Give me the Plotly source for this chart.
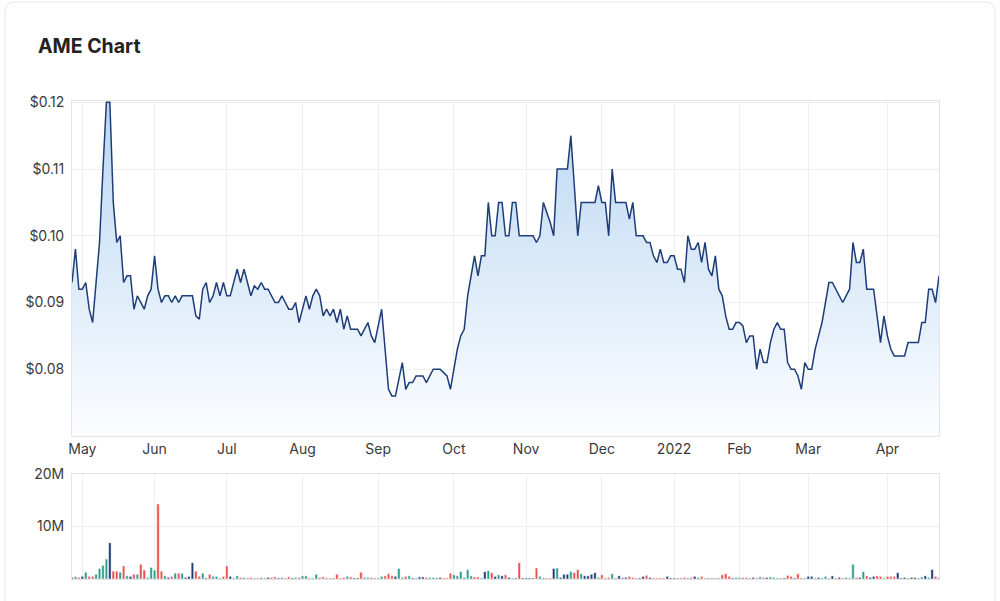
import pandas as pd
import plotly.graph_objects as go

# ---------------- data ----------------
holidays = ["2021-06-14", "2021-12-27", "2021-12-28", "2022-01-03",
            "2022-01-26", "2022-04-15", "2022-04-18", "2022-04-25"]
dates = [d for d in pd.bdate_range("2021-04-28", "2022-04-27")
         if d.strftime("%Y-%m-%d") not in holidays]

close = [
    0.093, 0.098, 0.092, 0.092, 0.093, 0.089, 0.087, 0.093, 0.099, 0.110,
    0.120, 0.120, 0.105, 0.099, 0.100, 0.093, 0.094, 0.094, 0.089, 0.091,
    0.090, 0.089, 0.091, 0.092, 0.097, 0.092, 0.090, 0.091, 0.091, 0.090,
    0.091, 0.090, 0.091, 0.091, 0.091, 0.091, 0.088, 0.0875, 0.092, 0.093,
    0.090, 0.091, 0.093, 0.091, 0.093, 0.091, 0.091, 0.093, 0.095, 0.093,
    0.095, 0.093, 0.091, 0.0925, 0.092, 0.093, 0.092, 0.092, 0.091, 0.090,
    0.090, 0.091, 0.090, 0.089, 0.089, 0.090, 0.087, 0.089, 0.091, 0.089,
    0.091, 0.092, 0.091, 0.088, 0.089, 0.088, 0.089, 0.087, 0.089, 0.086,
    0.088, 0.086, 0.086, 0.086, 0.085, 0.086, 0.087, 0.085, 0.084, 0.0865,
    0.089, 0.083, 0.077, 0.076, 0.076, 0.0785, 0.081, 0.077, 0.078, 0.078,
    0.079, 0.079, 0.079, 0.078, 0.079, 0.080, 0.080, 0.080, 0.0795, 0.079,
    0.077, 0.080, 0.083, 0.085, 0.086, 0.091, 0.094, 0.097, 0.094, 0.097,
    0.097, 0.105, 0.100, 0.100, 0.105, 0.105, 0.100, 0.100, 0.105, 0.105,
    0.100, 0.100, 0.100, 0.100, 0.100, 0.099, 0.100, 0.105, 0.1035, 0.102,
    0.100, 0.110, 0.110, 0.110, 0.110, 0.115, 0.108, 0.100, 0.105, 0.105,
    0.105, 0.105, 0.105, 0.1075, 0.105, 0.105, 0.100, 0.110, 0.105, 0.105,
    0.105, 0.105, 0.1025, 0.105, 0.100, 0.100, 0.100, 0.099, 0.099, 0.097,
    0.096, 0.098, 0.096, 0.096, 0.097, 0.097, 0.095, 0.095, 0.093, 0.100,
    0.098, 0.098, 0.099, 0.096, 0.099, 0.095, 0.094, 0.097, 0.092, 0.091,
    0.088, 0.086, 0.086, 0.087, 0.087, 0.0865, 0.084, 0.085, 0.085, 0.080,
    0.083, 0.081, 0.081, 0.084, 0.086, 0.087, 0.086, 0.086, 0.081, 0.080,
    0.080, 0.079, 0.077, 0.081, 0.080, 0.080, 0.083, 0.085, 0.087, 0.090,
    0.093, 0.093, 0.092, 0.091, 0.090, 0.091, 0.092, 0.099, 0.096, 0.096,
    0.098, 0.092, 0.092, 0.092, 0.088, 0.084, 0.088, 0.085, 0.083, 0.082,
    0.082, 0.082, 0.082, 0.084, 0.084, 0.084, 0.084, 0.087, 0.087, 0.092,
    0.092, 0.090, 0.094,
]

volume_m = [
    0.3, 0.45, 0.3, 0.5, 1.3, 0.5, 0.5, 0.9, 2.0, 2.6,
    3.8, 6.9, 1.5, 1.5, 1.3, 2.5, 0.6, 0.5, 0.9, 0.9,
    2.8, 1.7, 0.3, 2.2, 1.7, 14.3, 1.5, 0.6, 0.3, 0.5,
    1.1, 1.1, 1.1, 0.3, 0.5, 3.1, 1.5, 0.5, 1.1, 0.2,
    0.9, 0.5, 0.5, 0.2, 0.5, 2.5, 0.5, 0.2, 0.6, 0.3,
    0.3, 0.2, 0.3, 0.2, 0.2, 0.3, 0.2, 0.3, 0.3, 0.4,
    0.2, 0.3, 0.2, 0.4, 0.2, 0.3, 0.3, 0.6, 0.6, 0.2,
    0.2, 0.9, 0.3, 0.4, 0.2, 0.2, 0.2, 0.9, 0.2, 0.3,
    0.5, 0.4, 0.2, 0.2, 1.3, 0.3, 0.3, 0.3, 0.2, 0.2,
    0.5, 0.6, 1.0, 0.6, 0.5, 2.0, 0.3, 0.5, 0.6, 0.2,
    0.2, 0.4, 0.4, 0.3, 0.3, 0.3, 0.2, 0.3, 0.2, 0.2,
    1.1, 0.8, 0.6, 1.4, 0.3, 1.8, 0.6, 0.4, 0.4, 0.2,
    1.4, 1.6, 1.2, 0.5, 0.8, 0.6, 0.8, 0.3, 0.2, 0.2,
    3.1, 0.2, 0.2, 0.2, 0.2, 2.1, 0.5, 0.2, 0.2, 0.2,
    2.0, 2.1, 0.3, 0.9, 0.9, 1.4, 1.2, 1.8, 1.0, 0.6,
    0.6, 0.9, 1.2, 0.3, 0.8, 0.2, 0.3, 1.0, 0.2, 0.6,
    0.2, 0.3, 0.5, 0.3, 0.2, 0.2, 0.5, 0.7, 0.3, 0.2,
    0.2, 0.2, 0.2, 0.5, 0.2, 0.2, 0.2, 0.2, 0.3, 0.2,
    0.3, 0.5, 0.3, 0.5, 0.2, 0.2, 0.2, 0.2, 0.2, 0.8,
    1.0, 0.5, 0.2, 0.3, 0.3, 0.3, 0.3, 0.2, 0.3, 0.2,
    0.4, 0.3, 0.3, 0.4, 0.3, 0.2, 0.2, 0.2, 0.7, 0.5,
    0.2, 1.0, 0.2, 0.2, 0.5, 0.5, 0.2, 0.3, 0.2, 0.5,
    0.2, 0.6, 0.2, 0.3, 0.2, 0.3, 0.2, 2.8, 0.3, 0.3,
    1.4, 0.6, 0.3, 0.5, 0.6, 0.5, 0.2, 0.5, 0.5, 0.5,
    1.2, 0.2, 0.3, 0.2, 0.3, 0.3, 0.2, 0.4, 0.6, 0.3,
    1.8, 0.5, 0.3,
]

# U = up day, D = down day, N = unchanged
vol_dir = (
    "NUDNUDDUUU" "UNDDUDUNDU" "DDUUUDDUND" "UDUNNNDDUN" "DUUUDDNUUD"
    "UDDUDUDNDD" "NUDDNUDUUD" "UUDDUDUDDD" "UDNNDUUDDU" "UDDDNUUDUN"
    "UNNDUUNNDD" "DUUUUUUDDU" "NUDNUNDNUN" "DNNNNDUUDD" "NUNNNUDDUN"
    "NNNUDDDUDN" "NNDDDNNDND" "DDDNNNUDDU" "DNUDUDDUDD" "DDNUUDDUND"
    "UDNUUUDNDD" "NDDUNNUNUU" "UNDNDUUUDN" "UDNNDDUDDD" "NNNUNNDUNU"
    "NDU"
)

month_labels = ["May", "Jun", "Jul", "Aug", "Sep", "Oct", "Nov", "Dec",
                "2022", "Feb", "Mar", "Apr"]
price_ticks = [0.08, 0.09, 0.10, 0.11, 0.12]
price_tick_text = ["$0.08", "$0.09", "$0.10", "$0.11", "$0.12"]
vol_ticks = [10e6, 20e6]
vol_tick_text = ["10M", "20M"]

# ---------------- derived ----------------
idx = list(range(len(dates)))
tick_idx = []
for i in range(1, len(dates)):
    if dates[i].month != dates[i - 1].month:
        tick_idx.append(i)

colors = {"U": "#2a9d8f", "D": "#ef4f4f", "N": "#1d3a70"}
bar_colors = [colors[c] for c in vol_dir]
volume = [v * 1e6 for v in volume_m]

# ---------------- layout geometry (pixels) ----------------
W, H = 1000, 601
L, R, T, B = 72, 61, 101, 22
PW, PH = W - L - R, H - T - B
price_bottom_px = 436
vol_top_px = 474


def px_x(px):
    return (px - L) / PW


def px_y(py):
    return (H - B - py) / PH


GRID = "#efefef"
FRAME = "#e4e4e4"
TXT = "#3a3a3a"
FONT = "Inter"

fig = go.Figure()

fig.add_trace(go.Scatter(
    x=idx, y=close, mode="lines",
    line=dict(color="#1e3d78", width=1.5),
    fill="tozeroy",
    fillgradient=dict(type="vertical", start=0.07, stop=0.12,
                      colorscale=[[0, "rgb(252,253,255)"],
                                  [1, "rgb(186,215,242)"]]),
    customdata=[d.strftime("%d %b %Y") for d in dates],
    hovertemplate="%{customdata}<br>$%{y:.4f}<extra></extra>",
    xaxis="x", yaxis="y", showlegend=False,
))

fig.add_trace(go.Bar(
    x=idx, y=volume,
    marker=dict(color=bar_colors, line=dict(color="white", width=0.5)),
    customdata=[d.strftime("%d %b %Y") for d in dates],
    hovertemplate="%{customdata}<br>%{y:,.0f}<extra></extra>",
    xaxis="x2", yaxis="y2", showlegend=False,
))

axis_common = dict(showgrid=True, gridcolor=GRID, gridwidth=1,
                   showline=True, linecolor=FRAME, linewidth=1, mirror=True,
                   zeroline=False, ticks="",
                   tickfont=dict(family=FONT, size=14, color=TXT))

fig.update_layout(
    width=W, height=H,
    margin=dict(l=L, r=R, t=T, b=B, pad=0),
    paper_bgcolor="white", plot_bgcolor="white",
    bargap=0.28,
    hovermode="x",
    title=dict(text="<b>AME Chart</b>", x=38 / W, xanchor="left",
               xref="container", y=1 - 46 / H, yanchor="middle",
               yref="container",
               font=dict(family=FONT, size=19.5, color="#222222")),
    xaxis=dict(domain=[0, 1], anchor="y", range=[0, len(dates) - 1],
               tickvals=tick_idx, ticktext=month_labels,
               **axis_common),
    xaxis2=dict(domain=[0, 1], anchor="y2", matches="x",
                tickvals=tick_idx, showticklabels=False,
                **axis_common),
    yaxis=dict(domain=[px_y(price_bottom_px), 1], anchor="x",
               range=[0.07, 0.1202], tickvals=price_ticks,
               ticktext=price_tick_text, ticklabelstandoff=4,
               **axis_common),
    yaxis2=dict(domain=[0, px_y(vol_top_px)], anchor="x2",
                range=[0, 20e6], tickvals=vol_ticks,
                ticktext=vol_tick_text, ticklabelstandoff=4,
                **axis_common),
)

# card outline with rounded top corners
r = 10
x0, x1, y0, y1 = 5, 995, 2, 640
pts = [
    ("M", (x0, y1)), ("L", (x0, y0 + r)), ("Q", (x0, y0), (x0 + r, y0)),
    ("L", (x1 - r, y0)), ("Q", (x1, y0), (x1, y0 + r)), ("L", (x1, y1)),
]
path = ""
for item in pts:
    cmd = item[0]
    coords = " ".join(f"{px_x(p[0]):.5f},{px_y(p[1]):.5f}" for p in item[1:])
    path += f"{cmd} {coords} "
fig.add_shape(type="path", path=path.strip(), xref="paper", yref="paper",
              line=dict(color="#e6e6e6", width=1), layer="below")

fig.write_html("out.html")
